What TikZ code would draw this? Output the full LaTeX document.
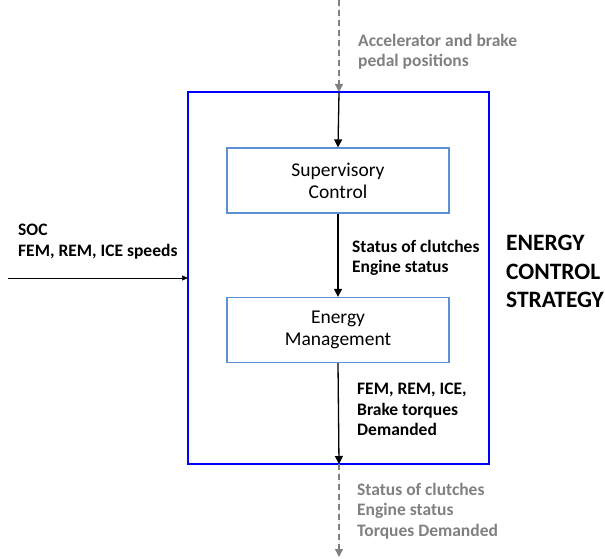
\documentclass[tikz,border=0pt]{standalone}
\usepackage{fontspec}
\setmainfont{Carlito}
\usetikzlibrary{arrows.meta}
\definecolor{boxblue}{RGB}{91,145,210}
\definecolor{dgray}{RGB}{128,128,128}
\begin{document}
\begin{tikzpicture}[x=1pt,y=-1pt,
  blk/.style={draw=boxblue,line width=1.3pt,minimum width=222pt,minimum height=65pt,align=center,font=\fontsize{19.5}{22}\selectfont,inner sep=0pt},
  lbl/.style={align=left,anchor=north west,inner sep=0pt,font=\bfseries\fontsize{17.5}{20.5}\selectfont},
  glbl/.style={lbl,text=dgray},
  arr/.style={-{Triangle[length=8pt,width=8pt]},line width=1.3pt},
  garr/.style={-{Triangle[length=8pt,width=8pt]},line width=1.3pt,draw=dgray,fill=dgray,dash pattern=on 6pt off 4pt}]
\useasboundingbox (0,0) rectangle (605,559);
\node[draw=blue,line width=1.8pt,minimum width=301pt,minimum height=372pt,inner sep=0pt] (outer) at (338.5,278) {};
\node[blk] (sup) at (338,180.5) {Supervisory\\Control};
\node[blk] (em) at (338,330) {Energy\\Management};
\coordinate (topin) at (339,0);
\coordinate (topb) at (339,92);
\coordinate (botb) at (339,464);
\coordinate (botout) at (339,557);
\coordinate (leftin) at (8,278);
\coordinate (leftb) at (188,278);
\draw[garr] (topin) -- (topb);
\draw[arr] (topb) -- (sup.north);
\draw[arr] (sup.south) -- (em.north);
\draw[arr] (em.south) -- (botb);
\draw[garr] (botb) -- (botout);
\draw[-{Triangle[length=6pt,width=5pt]},line width=0.6pt] (leftin) -- (leftb);
\node[glbl] (t1) at (358,34) {Accelerator and brake\\pedal positions};
\node[lbl] (t2) at (18,224) {SOC\\FEM, REM, ICE speeds};
\node[lbl] (t3) at (352,240) {Status of clutches\\Engine status};
\node[lbl] (t4) at (357,383) {FEM, REM, ICE,\\Brake torques\\Demanded};
\node[glbl] (t5) at (357,483) {Status of clutches\\Engine status\\Torques Demanded};
\node[lbl,font=\bfseries\fontsize{23.5}{28.5}\selectfont] (t6) at (506,235) {ENERGY\\CONTROL\\STRATEGY};
\end{tikzpicture}
\end{document}
